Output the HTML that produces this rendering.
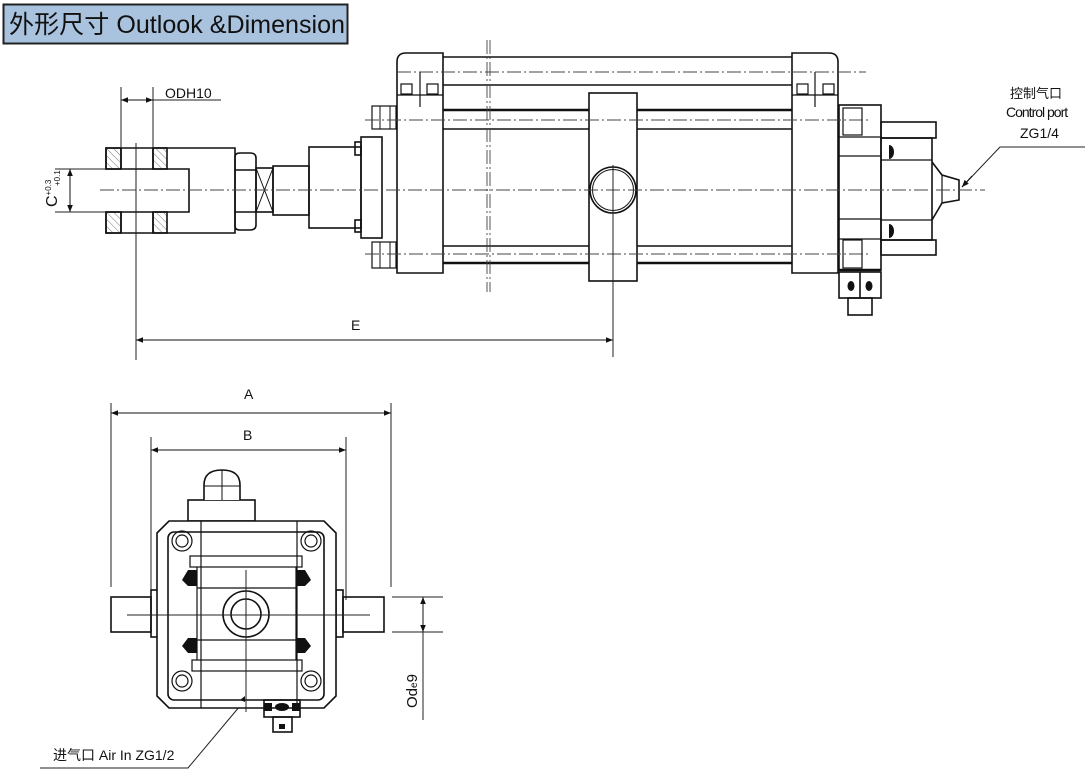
<!DOCTYPE html>
<html><head><meta charset="utf-8"><style>
html,body{margin:0;padding:0;background:#fff;}
svg{display:block;}
text{font-family:"Liberation Sans","Noto Sans CJK SC",sans-serif;fill:#111;}
</style></head><body>
<svg width="1089" height="774" viewBox="0 0 1089 774" xmlns="http://www.w3.org/2000/svg">
<defs>
<pattern id="h" width="5" height="5" patternUnits="userSpaceOnUse" patternTransform="rotate(-45)"><line x1="0" y1="0" x2="0" y2="5" stroke="#777" stroke-width="1"/></pattern>
<marker id="ar" viewBox="0 0 10 10" refX="10" refY="5" markerWidth="9" markerHeight="7" orient="auto-start-reverse"><path d="M0,1 L10,5 L0,9 z" fill="#111"/></marker>
</defs>
<!-- title -->
<rect x="3.5" y="4.5" width="344" height="39" fill="#a9c2de" stroke="#222" stroke-width="2"/>
<text x="9" y="33" font-size="25" textLength="336" lengthAdjust="spacingAndGlyphs">外形尺寸 Outlook &amp;Dimension</text>

<g fill="none" stroke="#111" stroke-width="1.6">
<path d="M106,148 H235 V233 H106 V212 H189 V169 H106 Z" fill="#fff"/>
<rect x="106" y="148" width="15" height="21" fill="url(#h)"/>
<rect x="106" y="212" width="15" height="21" fill="url(#h)"/>
<rect x="153" y="148" width="14" height="21" fill="url(#h)"/>
<rect x="153" y="212" width="14" height="21" fill="url(#h)"/>
<path d="M121,148 V169 M153,148 V169 M121,212 V233 M153,212 V233"/>
<path d="M235,157 Q235,153 240,153 H250 Q256,153 256,158 V225 Q256,230 250,230 H240 Q235,230 235,226 Z"/>
<path d="M235,170 H256 M235,212 H256"/>
<rect x="256" y="168" width="17" height="44"/>
<path d="M256,168 L273,212 M273,168 L256,212" stroke-width="1"/>
<rect x="273" y="166" width="36" height="49"/>
<rect x="309" y="147" width="52" height="81"/>
<rect x="361" y="137" width="21" height="101"/>
<rect x="355" y="142" width="6" height="13"/><rect x="355" y="220" width="6" height="12"/>
<rect x="372" y="106" width="24" height="23" stroke-width="1.2"/><rect x="380" y="106" width="10" height="23" stroke-width="1"/>
<rect x="372" y="242" width="24" height="26" stroke-width="1.2"/><rect x="380" y="242" width="10" height="26" stroke-width="1"/>
<path d="M397,273 V62 Q397,53 406,53 H443 V273 Z" fill="#fff"/>
<path d="M397,95 H443 M420,72 V107" stroke-width="1.2"/>
<rect x="401" y="84" width="11" height="10" stroke-width="1.2"/><rect x="427" y="84" width="11" height="10" stroke-width="1.2"/>
<path d="M443,57 H792 M443,85 H792"/>
<path d="M443,110 H589 M633,110 H792" stroke-width="2.6"/>
<path d="M443,129 H589 M633,129 H792"/>
<path d="M443,246 H589 M633,246 H792"/>
<path d="M443,263 H589 M633,263 H792" stroke-width="2.6"/>
<rect x="589" y="93" width="48" height="188" fill="#fff"/>
<circle cx="613" cy="190" r="23"/><circle cx="613" cy="190" r="20.5" stroke-width="1"/>
<path d="M792,273 V53 H829 Q838,53 838,62 V273 Z" fill="#fff"/>
<path d="M792,95 H838 M815,72 V107" stroke-width="1.2"/>
<rect x="797" y="84" width="11" height="10" stroke-width="1.2"/><rect x="823" y="84" width="11" height="10" stroke-width="1.2"/>
<rect x="839" y="105" width="42" height="165"/>
<path d="M839,137 H881 M839,156 H881 M839,219 H881 M839,239 H881" stroke-width="1.2"/>
<rect x="843" y="108" width="19" height="27" stroke-width="1.2"/><rect x="843" y="240" width="19" height="28" stroke-width="1.2"/>
<path d="M839,270 H881" stroke-width="2.6"/>
<rect x="881" y="122" width="55" height="16"/>
<rect x="881" y="138" width="51" height="102"/>
<rect x="881" y="240" width="55" height="15"/>
<path d="M881,160 H932 M881,220 H932" stroke-width="1.2"/>
<path d="M932,162 L942,175 L959,180 V200 L942,203 L932,220"/>
<path d="M942,175 V203" stroke-width="1.2"/>
<rect x="839" y="272" width="42" height="26"/>
<path d="M860,272 V298"/>
<rect x="848" y="298" width="24" height="17"/>
</g>
<g fill="#111">
<ellipse cx="851" cy="286" rx="3.5" ry="5"/><ellipse cx="869" cy="286" rx="3.5" ry="5"/>
<path d="M889,145 A5,7 0 0 1 889,159 Z"/><path d="M889,224 A5,7 0 0 1 889,238 Z"/>
</g>
<g stroke="#444" stroke-width="0.9" stroke-dasharray="14,3,2,3" fill="none">
<path d="M100,190 H985"/>
<path d="M397,72 H866"/>
<path d="M365,120 H870"/>
<path d="M365,254 H870"/>
<path d="M487,40 V292 M490,40 V292"/>
</g>
<g stroke="#222" stroke-width="1" fill="none">
<path d="M121,87 V148 M153,87 V148"/>
<path d="M121,100 H153 M153,100 H221" />
<path d="M136,143 V360"/>
<path d="M613,165 V357"/>
<path d="M55,169 H106 M55,212 H106"/>
<path d="M962,187 L1000,147 H1085"/>
</g>
<path d="M121,100 H137" stroke="#111" marker-start="url(#ar)"/>
<path d="M137,100 H153" stroke="#111" marker-end="url(#ar)"/>
<path d="M70,190 V169" stroke="#111" marker-end="url(#ar)"/>
<path d="M70,190 V212" stroke="#111" marker-end="url(#ar)"/>
<path d="M136,340 H613" stroke="#111" stroke-width="1" marker-start="url(#ar)" marker-end="url(#ar)"/>
<path d="M972,176 L962,187" stroke="#111" marker-end="url(#ar)"/>
<text x="165" y="98" font-size="14">ODH10</text>
<text x="351" y="330" font-size="14">E</text>
<text transform="translate(57,207) rotate(-90)" font-size="16">C<tspan font-size="8" dy="-6">+0.3</tspan></text>
<text transform="translate(60,186) rotate(-90)" font-size="8">+0.1</text>
<text x="1010" y="98" font-size="13">控制气口</text>
<text x="1006" y="117" font-size="14" letter-spacing="-1">Control port</text>
<text x="1020" y="138" font-size="14">ZG1/4</text>

<g stroke="#222" stroke-width="1" fill="none">
<path d="M111,403 V587 M391,403 V587"/>
<path d="M151,437 V600 M346,437 V600"/>
<path d="M392,597 H443 M392,632 H443"/>
<path d="M423,632 V720"/>
<path d="M245,700 L188,768 H40"/>
</g>
<path d="M111,413 H391" stroke="#111" stroke-width="1" marker-start="url(#ar)" marker-end="url(#ar)"/>
<path d="M151,450 H346" stroke="#111" stroke-width="1" marker-start="url(#ar)" marker-end="url(#ar)"/>
<path d="M423,614 V597" stroke="#111" marker-end="url(#ar)"/>
<path d="M423,614 V632" stroke="#111" marker-end="url(#ar)"/>
<text x="244" y="399" font-size="14">A</text>
<text x="243" y="440" font-size="14">B</text>
<text transform="translate(417,708) rotate(-90)" font-size="15">Od<tspan font-size="10">e</tspan>9</text>
<text x="53" y="760" font-size="14">进气口 Air In  ZG1/2</text>

<g fill="none" stroke="#111" stroke-width="1.6">
<rect x="111" y="597" width="40" height="35"/>
<rect x="151" y="590" width="7" height="47"/>
<rect x="343" y="597" width="41" height="35"/>
<rect x="336" y="590" width="7" height="47"/>
<rect x="188" y="500" width="67" height="21"/>
<path d="M204,500 V485 Q204,470 222,470 Q240,470 240,485 V500" fill="#fff"/>
<path d="M222,470 V500 M204,486 H240" stroke-width="1"/>
<path d="M169,521 H324 L336,533 V696 L324,708 H169 L157,696 V533 Z" fill="#fff"/>
<rect x="168" y="532" width="156" height="168" rx="6"/>
<path d="M201,521 V708 M297,521 V708" stroke-width="1.2"/>
<rect x="190" y="556" width="112" height="11" stroke-width="1.2"/>
<rect x="192" y="660" width="110" height="11" stroke-width="1.2"/>
<path d="M197,567 V660 M296,567 V660 M197,588 H296 M197,640 H296" stroke-width="1.2"/>
<circle cx="246" cy="614" r="23"/><circle cx="246" cy="614" r="15"/>
<g stroke-width="1.2">
<circle cx="182" cy="541" r="10"/><circle cx="182" cy="541" r="6"/>
<circle cx="311" cy="541" r="10"/><circle cx="311" cy="541" r="6"/>
<circle cx="182" cy="681" r="10"/><circle cx="182" cy="681" r="6"/>
<circle cx="311" cy="681" r="10"/><circle cx="311" cy="681" r="6"/>
</g>
<rect x="264" y="700" width="36" height="17"/>
<rect x="273" y="717" width="19" height="15"/>
</g>
<g fill="#111">
<path d="M197,570 H188 L182,580 L188,586 H197 Z"/>
<path d="M296,570 H305 L311,580 L305,586 H296 Z"/>
<path d="M197,638 H188 L182,646 L188,653 H197 Z"/>
<path d="M296,638 H305 L311,646 L305,653 H296 Z"/>
<rect x="264" y="703" width="8" height="8"/><rect x="292" y="703" width="8" height="8"/>
<ellipse cx="282" cy="707" rx="7" ry="4"/>
<rect x="279" y="724" width="6" height="5"/>
<path d="M240,700 L245,696 L245,702 Z"/>
</g>
<g stroke="#222" stroke-width="1" fill="none">
<path d="M127,615 H370"/>
<path d="M246,570 V712"/>
</g>
</svg>
</body></html>
